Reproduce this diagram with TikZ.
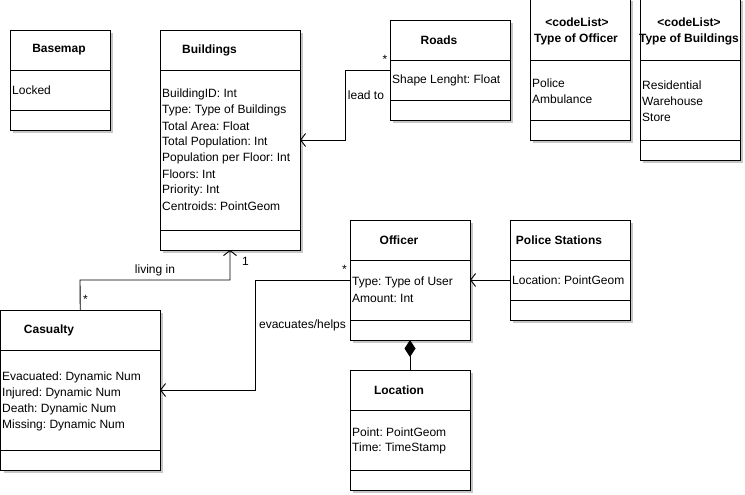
\documentclass[tikz,border=0pt]{standalone}
\usepackage{fontspec}
\setmainfont{Liberation Sans}
\frenchspacing
\usetikzlibrary{arrows.meta}
\tikzset{
  classrect/.style={draw=black, line width=0.9pt, inner sep=0pt, outer sep=0pt, fill=white},
  shadowfill/.style={fill=black!22},
  sepline/.style={draw=black, line width=0.9pt},
  title/.style={font=\fontsize{12}{14}\selectfont\bfseries, inner sep=0pt, anchor=center},
  attr/.style={font=\fontsize{12}{14}\selectfont, inner sep=0pt, anchor=west},
  lbl/.style={font=\fontsize{12}{14}\selectfont, inner sep=0pt, anchor=center},
  conn/.style={draw=black, line width=0.9pt},
  openarrow/.style={-{Straight Barb[length=5pt,width=13pt,line width=0.9pt]}},
  composition/.style={{Diamond[length=17pt,width=11pt,fill=black]}-},
}
\newcommand\classbox[7]{%
  \fill[shadowfill] (#2+3,#3+3) rectangle (#4+3,#5+3);
  \node[classrect, minimum width={(#4-#2)*1pt}, minimum height={(#5-#3)*1pt}] (#1) at ({(#2+#4)/2},{(#3+#5)/2}) {};
  \draw[sepline] (#2,#6) -- (#4,#6);
  \draw[sepline] (#2,#7) -- (#4,#7);
}
\begin{document}
\begin{tikzpicture}[x=1pt,y=-1pt]
\useasboundingbox (0,0) rectangle (745,495);
\fill[white] (0,0) rectangle (745,495);

% boxes
\classbox{basemap}{10}{30}{110}{130}{70}{110}
\classbox{buildings}{160}{30}{300}{250}{70}{230}
\classbox{roads}{390}{20}{510}{120}{60}{100}
\classbox{typeofficer}{530}{-2}{630}{140}{60}{120}
\classbox{typebuildings}{640}{-2}{740}{160}{60}{140}
\classbox{officer}{350}{220}{470}{340}{260}{320}
\classbox{location}{350}{370}{470}{490}{410}{470}
\classbox{casualty}{0.5}{310}{160}{470}{350}{450}
\classbox{police}{510}{220}{630}{320}{260}{300}

% titles
\node[title] (tBasemap) at (59,50) {Basemap};
\node[title] (tBuildings) at (209.5,50) {Buildings};
\node[title] (tRoads) at (439,40) {Roads};
\node[title] (tTO1) at (577,22) {<codeList>};
\node[title] (tTO2) at (576,39) {Type of Officer};
\node[title] (tTB1) at (689,22) {<codeList>};
\node[title] (tTB2) at (689,39) {Type of Buildings};
\node[title] (tOfficer) at (399,240.5) {Officer};
\node[title] (tLocation) at (399,390.5) {Location};
\node[title] (tCasualty) at (49,330.5) {Casualty};
\node[title] (tPolice) at (559,240.5) {Police Stations};

% attributes
\node[attr] (aBasemap) at (12,90.5) {Locked};
\node[attr] (aB1) at (162,94) {BuildingID: Int};
\node[attr] (aB2) at (162,110) {Type: Type of Buildings};
\node[attr] (aB3) at (162,126) {Total Area: Float};
\node[attr] (aB4) at (162,142) {Total Population: Int};
\node[attr] (aB5) at (162,158) {Population per Floor: Int};
\node[attr] (aB6) at (162,174) {Floors: Int};
\node[attr] (aB7) at (162,190) {Priority: Int};
\node[attr] (aB8) at (162,206) {Centroids: PointGeom};
\node[attr] (aRoads) at (392,80.5) {Shape Lenght: Float};
\node[attr] (aTO1) at (532,83) {Police};
\node[attr] (aTO2) at (532,99) {Ambulance};
\node[attr] (aTB1) at (642,85) {Residential};
\node[attr] (aTB2) at (642,101) {Warehouse};
\node[attr] (aTB3) at (642,117) {Store};
\node[attr] (aO1) at (352,282.5) {Type: Type of User};
\node[attr] (aO2) at (352,298.5) {Amount: Int};
\node[attr] (aL1) at (352,432.5) {Point: PointGeom};
\node[attr] (aL2) at (352,448.5) {Time: TimeStamp};
\node[attr] (aC1) at (2,377) {Evacuated: Dynamic Num};
\node[attr] (aC2) at (2,393) {Injured: Dynamic Num};
\node[attr] (aC3) at (2,409) {Death: Dynamic Num};
\node[attr] (aC4) at (2,425) {Missing: Dynamic Num};
\node[attr] (aPolice) at (512,280.5) {Location: PointGeom};

% connectors
\coordinate (leadA) at (345,70);
\coordinate (leadB) at (345,140);
\draw[conn, openarrow] (roads.west) -- (leadA) -- (leadB) -- (buildings.east);
\node[lbl] (lLead) at (366,95) {lead to};
\node[lbl] (mRoads) at (385,59) {*};

\coordinate (livA) at (80,280);
\coordinate (livB) at (230,280);
\draw[conn, openarrow] (casualty.north) -- (livA) -- (livB) -- (buildings.south);
\node[lbl] (lLiving) at (155,270) {living in};
\node[lbl] (mOne) at (245.5,261.5) {1};
\node[lbl] (mCas) at (85.5,299.5) {*};

\coordinate (evaA) at (255.5,280);
\coordinate (evaB) at (255.5,390);
\draw[conn, openarrow] (officer.west) -- (evaA) -- (evaB) -- (casualty.east);
\node[lbl] (lEva) at (302.5,325) {evacuates/helps};
\node[lbl] (mOff) at (344.5,269.5) {*};

\draw[conn, openarrow] (police.west |- officer.east) -- (officer.east);

\draw[conn, composition] (officer.south) -- (location.north);
\end{tikzpicture}
\end{document}
